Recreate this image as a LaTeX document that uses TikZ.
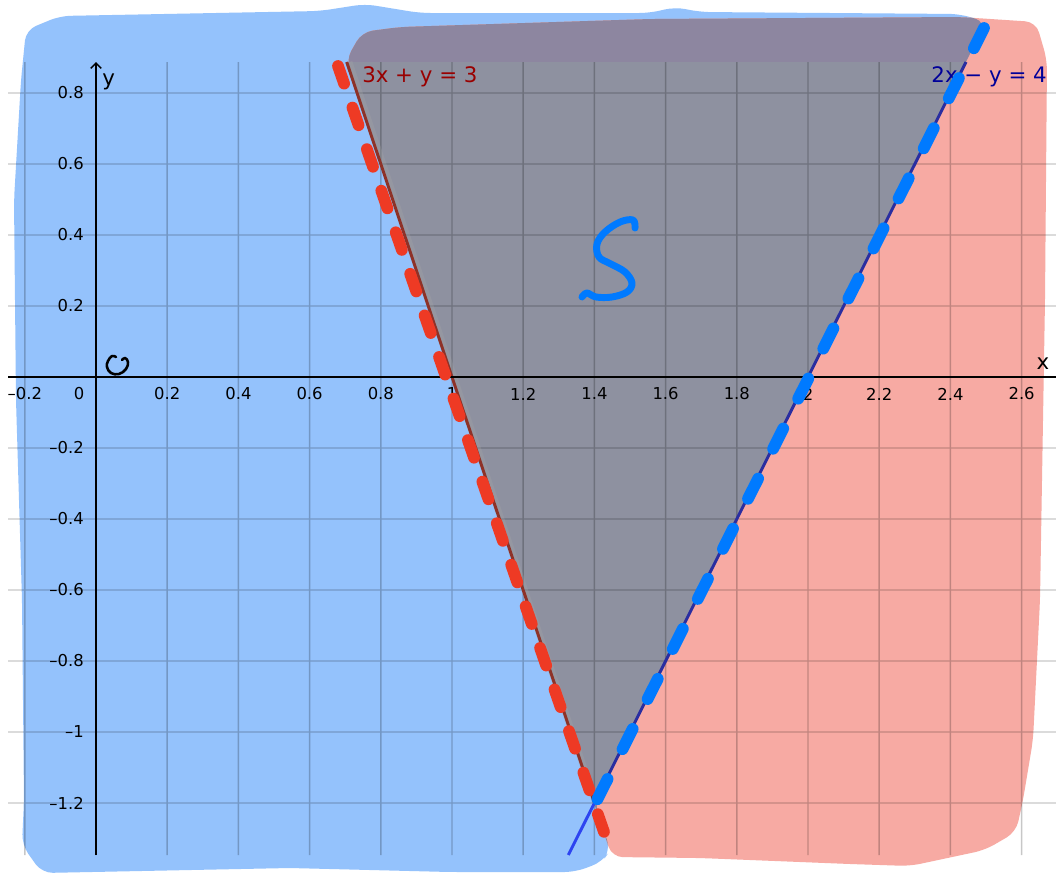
\documentclass[tikz,border=0pt]{standalone}
\usepackage{fontspec}
\setmainfont{DejaVu Sans}
\usetikzlibrary{arrows.meta}
\definecolor{bluepaint}{RGB}{148,194,252}
\definecolor{redpaint}{RGB}{247,170,163}
\definecolor{bandgray}{RGB}{141,134,160}
\definecolor{trigray}{RGB}{142,145,160}
\definecolor{redline}{RGB}{142,50,40}
\definecolor{navyline}{RGB}{42,46,160}
\definecolor{brightline}{RGB}{45,68,240}
\definecolor{reddash}{RGB}{238,58,36}
\definecolor{bluedash}{RGB}{0,122,255}
\definecolor{eqred}{RGB}{153,0,0}
\definecolor{eqblue}{RGB}{0,0,153}
\tikzset{
  gridline/.style={line width=1.1pt, black},
  axisline/.style={line width=1.1pt, black},
  ticklabel/.style={inner sep=0pt, font=\fontsize{12.3}{14}\selectfont},
  eqlabel/.style={inner sep=0pt, font=\fontsize{16}{19}\selectfont},
  marker/.style={line width=8.8pt, line cap=round},
  pen/.style={line cap=round, line join=round}
}
% painted blobs (pixel coordinates, y downwards)
\def\bluepath{(594.4,803) -- (978,38) -- (986,22) -- (960,14) -- (700,12) -- (675,7) -- (650,13) -- (420,13) -- (365,4) -- (320,11) -- (60,16) -- (26,30) -- (21,80) -- (14,200) -- (16,400) -- (22,600) -- (24,800) -- (22,845) -- (42,873) -- (290,868) -- (450,872) -- (575,872) -- (602,862) -- (610.5,850) -- cycle}
\def\redpath{(612,857) -- (700,858) -- (850,864) -- (910,866) -- (985,850) -- (1016,832) -- (1023,800) -- (1033,740) -- (1040,600) -- (1045,300) -- (1047,60) -- (1036,22) -- (960,17) -- (650,19) -- (400,27) -- (362,32) -- (346,60) -- cycle}

\begin{document}
\begin{tikzpicture}[x=0.75pt, y={(0pt,-0.75pt)}]
  \fill[white] (0,0) rectangle (1056,875);
  \useasboundingbox (0,0) rectangle (1056,875);

  % paint
  \fill[bluepaint, rounded corners=8pt] \bluepath;
  \fill[redpaint, rounded corners=8pt] \redpath;
  \begin{scope}
    \clip[rounded corners=8pt] \bluepath;
    \fill[bandgray, rounded corners=8pt] \redpath;
  \end{scope}
  \fill[trigray] (346.7,62) -- (966,62) -- (594.4,803) -- cycle;

  % grid
  \begin{scope}[transparency group, opacity=0.22]
    \foreach \k in {-1,...,13}
      \draw[gridline] ({96+71.2*\k},62) -- ({96+71.2*\k},855);
    \foreach \j in {-6,...,4}
      \draw[gridline] (8,{377-71*\j}) -- (1056,{377-71*\j});
  \end{scope}

  % the two lines
  \draw[line width=5pt, gray!70, opacity=0.3] (349,62) -- (595.5,803);
  \draw[line width=2.2pt, redline] (346.7,62) -- (594.4,803);
  \draw[line width=2.2pt, navyline] (966,62) -- (594.4,803);
  \draw[line width=2.2pt, brightline] (594.4,803) -- (568.3,855);

  % axes
  \draw[axisline] (8,377) -- (1056,377);
  \draw[axisline, -{Straight Barb[length=4pt, width=8pt]}] (96,855) -- (96,62);
  \node[eqlabel, anchor=base west] (ylabel) at (102,85) {y};
  \node[eqlabel] (xlabel) at (1043,364) {x};

  % tick labels
  \node[ticklabel] (xlab0) at (79,394) {0};
  \foreach \k/\lab in {-1/{–0.2},1/0.2,2/0.4,3/0.6,4/0.8,5/1,6/1.2,7/1.4,8/1.6,9/1.8,10/2,11/2.2,12/2.4,13/2.6}
    \node[ticklabel] (xlab\k) at ({96+71.2*\k},394) {\lab};
  \foreach \j/\lab in {4/0.8,3/0.6,2/0.4,1/0.2,-1/{–0.2},-2/{–0.4},-3/{–0.6},-4/{–0.8},-5/{–1},-6/{–1.2}}
    \node[ticklabel, anchor=east] (ylab\j) at (84,{377-71*\j}) {\lab};

  % equations
  \node[eqlabel, eqred, anchor=base west] (eqone) at (362,82) {3x + y = 3};
  \node[eqlabel, eqblue, anchor=base east] (eqtwo) at (1047,82) {2x − y = 4};

  % marker dashes
  \draw[marker, reddash, dash pattern=on 14pt off 19pt] (338,66) -- (612,855);
  \draw[marker, bluedash, dash pattern=on 17pt off 25pt] (984,28) -- (586,822);

  % handwriting
  \draw[pen, bluedash, line width=5.2pt] plot[smooth, tension=0.6] coordinates {(635,228) (633,220) (620,222) (605,232) (597,244) (599,257) (611,264) (625,272) (632,283) (627,292) (612,297) (596,297) (587,293) (582,297)};
  \draw[pen, black, line width=1.9pt] plot[smooth, tension=0.7] coordinates {(116,357) (112,356) (108,361) (107,367) (111,373) (119,374) (126,369) (128,362) (125,358) (122,360)};
\end{tikzpicture}
\end{document}
